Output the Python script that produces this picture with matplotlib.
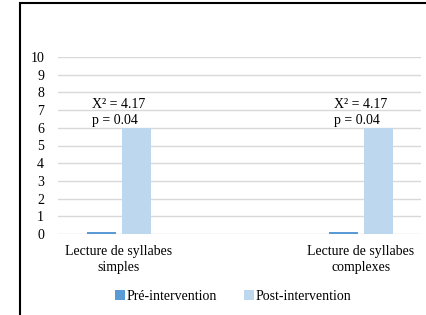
import matplotlib
matplotlib.use("Agg")
import matplotlib.pyplot as plt
from matplotlib.patches import Rectangle
import numpy as np

categories = ["Lecture de syllabes\nsimples", "Lecture de syllabes\ncomplexes"]
pre_values = [0.1, 0.1]
post_values = [6, 6]
annotations = ["X² = 4.17\np = 0.04", "X² = 4.17\np = 0.04"]
series_names = ["Pré-intervention", "Post-intervention"]
yticks = list(range(0, 11))

plt.rcParams['font.family'] = ['Liberation Serif', 'DejaVu Serif']
fs = 10

fig = plt.figure(figsize=(4.27, 3.15), dpi=100)
ax = fig.add_axes([58/427, 1-234/315, 363/427, 177/315])

x = np.arange(len(categories))
w = 0.12
off = 0.072
c_pre = "#5B9BD5"
c_post = "#BDD7EE"
b1 = ax.bar(x - off, pre_values, w, color=c_pre, label=series_names[0], zorder=3)
b2 = ax.bar(x + off, post_values, w, color=c_post, label=series_names[1], zorder=3)

for xi, v, t in zip(x, post_values, annotations):
    ax.text(xi + 0.0, v + 0.05, t, ha="center", va="bottom", fontsize=fs,
            multialignment="left", linespacing=1.3)

ax.set_xlim(-0.252, 1.248)
ax.set_ylim(0, 10)
ax.set_yticks(yticks)
ax.set_xticks(x)
ax.set_xticklabels(categories, fontsize=fs, linespacing=1.3)
ax.tick_params(axis="y", length=0, pad=10, labelsize=fs)
ax.tick_params(axis="x", length=0, pad=8)
ax.grid(axis="y", color="#D9D9D9", linewidth=1, zorder=0)
for s in ax.spines.values():
    s.set_visible(False)

fig.legend(handles=[b1, b2], labels=series_names, loc="center",
           bbox_to_anchor=(233/427, 1-296/315), ncol=2, frameon=False,
           fontsize=fs, handlelength=0.7, handleheight=0.7, handletextpad=0.1,
           columnspacing=2.0)

fig.patches.append(Rectangle((20/427, -0.1), 1, 1.1-3/315, transform=fig.transFigure,
                             fill=False, edgecolor="black", linewidth=1.5))

fig.savefig("out.png", dpi=100)
